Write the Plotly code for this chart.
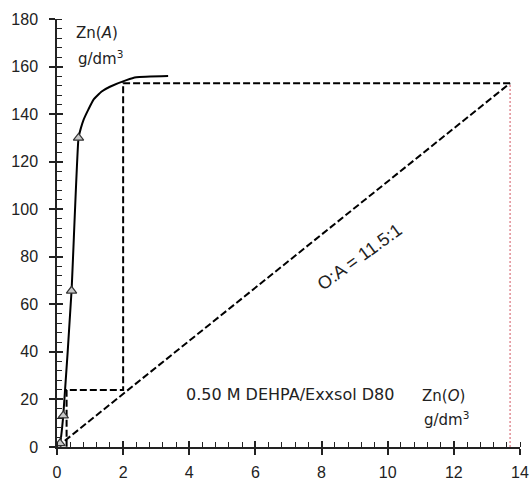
import plotly.graph_objects as go

# Equilibrium isotherm (smooth curve) and measured points
curve_x = [0.0, 0.09, 0.19, 0.44, 0.65, 0.72, 0.80, 0.95, 1.10, 1.35, 1.60, 2.10, 2.40, 3.36]
curve_y = [0.0, 1.5, 13.2, 65.7, 130.0, 134.0, 137.5, 142.0, 146.0, 149.5, 151.5, 154.3, 155.5, 156.0]
pts_x = [0.02, 0.09, 0.19, 0.44, 0.65]
pts_y = [0.0, 1.5, 13.2, 65.7, 130.0]

# Operating line O:A = 11.5:1
op_x = [0.0, 13.7]
op_y = [0.0, 153.0]

# McCabe-Thiele steps
step_x = [13.7, 2.0, 2.0, 0.29, 0.29]
step_y = [153.0, 153.0, 24.0, 24.0, 0.0]

# Red dotted vertical at loaded organic
red_x = [13.7, 13.7]
red_y = [0.0, 153.0]

x_ticks = [0, 2, 4, 6, 8, 10, 12, 14]
y_ticks = [0, 20, 40, 60, 80, 100, 120, 140, 160, 180]

fig = go.Figure()
fig.add_trace(go.Scatter(x=op_x, y=op_y, mode="lines",
                         line=dict(color="black", width=2, dash="7px,3px")))
fig.add_trace(go.Scatter(x=step_x, y=step_y, mode="lines",
                         line=dict(color="black", width=2, dash="7px,3px")))
fig.add_trace(go.Scatter(x=red_x, y=red_y, mode="lines",
                         line=dict(color="#d9707a", width=1.2, dash="2px,2px")))
fig.add_trace(go.Scatter(x=curve_x, y=curve_y, mode="lines",
                         line=dict(color="black", width=2, shape="spline", smoothing=0.4)))
fig.add_trace(go.Scatter(x=pts_x, y=pts_y, mode="markers",
                         marker=dict(symbol="triangle-up", size=9, color="#c8c8c8",
                                     line=dict(color="#333333", width=1.2))))
# invisible trace for overlay axes (crossing major ticks)
fig.add_trace(go.Scatter(x=[0, 14], y=[0, 180], xaxis="x2", yaxis="y2",
                         mode="markers", marker=dict(opacity=0), hoverinfo="skip"))

tickfont = dict(family="Liberation Sans, Arial, sans-serif", size=16, color="#222222")
lblfont = dict(family="DejaVu Sans, sans-serif", size=15, color="#222222")

fig.update_layout(
    width=531, height=481,
    margin=dict(l=57, r=11, t=19, b=34),
    paper_bgcolor="white", plot_bgcolor="white",
    showlegend=False,
    xaxis=dict(range=[0, 14], tickvals=x_ticks, showgrid=False, zeroline=False,
               showline=True, linecolor="#222222", linewidth=1.5, automargin=False,
               ticks="outside", ticklen=6, tickwidth=1.5, tickcolor="#222222",
               minor=dict(dtick=0.4, ticks="inside", ticklen=5, tickwidth=1, tickcolor="#222222"),
               tickfont=tickfont, ticklabelstandoff=4),
    yaxis=dict(range=[0, 180], tickvals=y_ticks, showgrid=False, zeroline=False,
               showline=True, linecolor="#222222", linewidth=1.5, automargin=False,
               ticks="outside", ticklen=6, tickwidth=1.5, tickcolor="#222222",
               minor=dict(dtick=4, ticks="inside", ticklen=5, tickwidth=1, tickcolor="#222222"),
               tickfont=tickfont, ticklabelstandoff=8),
    xaxis2=dict(range=[0, 14], tickvals=x_ticks, overlaying="x", showgrid=False,
                zeroline=False, showline=False, ticks="inside", ticklen=6, tickwidth=1.5,
                tickcolor="#222222", showticklabels=False, anchor="y2", automargin=False),
    yaxis2=dict(range=[0, 180], tickvals=y_ticks, overlaying="y", showgrid=False,
                zeroline=False, showline=False, ticks="inside", ticklen=6, tickwidth=1.5,
                tickcolor="#222222", showticklabels=False, anchor="x2", automargin=False),
    annotations=[
        dict(x=1.21, y=174, text="Zn(<i>A</i>)", showarrow=False, font=lblfont),
        dict(x=1.33, y=163.6, text="g/dm<sup>3</sup>", showarrow=False, font=lblfont),
        dict(x=11.7, y=21.4, text="Zn(<i>O</i>)", showarrow=False, font=lblfont),
        dict(x=11.78, y=11.8, text="g/dm<sup>3</sup>", showarrow=False, font=lblfont),
        dict(x=7.04, y=21.9, text="0.50 M DEHPA/Exxsol D80", showarrow=False,
             font=dict(family="DejaVu Sans, sans-serif", size=16, color="#222222")),
        dict(x=9.15, y=79.9, text="O:A = 11.5:1", showarrow=False, textangle=-36,
             font=dict(family="Liberation Sans, Arial, sans-serif", size=18, color="#222222")),
    ],
)

fig.write_html("out.html", config={"displayModeBar": False},
               post_script="document.body.style.margin='0';document.body.style.overflow='hidden';")
